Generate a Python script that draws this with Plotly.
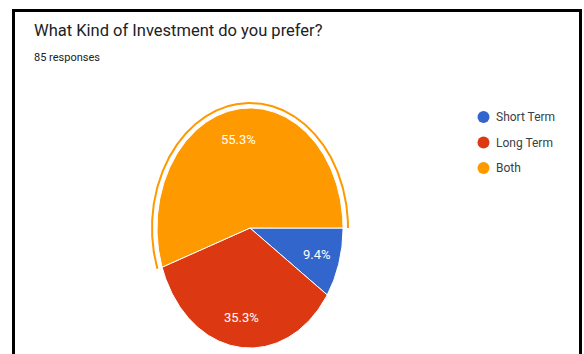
import numpy as np
import plotly.graph_objects as go

# Survey results
categories = ["Short Term", "Long Term", "Both"]
counts = [8, 30, 47]
colors = ["#3366CC", "#DC3912", "#FF9900"]
title_text = "What Kind of Investment do you prefer?"
subtitle_text = "85 responses"
highlighted = "Both"

W, H = 584, 354
FONT = "Roboto, Arial, sans-serif"

# Pie geometry in pixels: centre and the two semi-axes of the (stretched) pie
cx, cy, rx, ry = 250, 228, 93, 120
ring_gap = 5

total = sum(counts)
fractions = np.array(counts, dtype=float) / total
ends = np.cumsum(fractions)
starts = ends - fractions

fig = go.Figure()

# Slices: start at 3 o'clock and run clockwise, unit circle in data space
for name, frac, s, e, col in zip(categories, fractions, starts, ends, colors):
    n = max(int(frac * 400), 8)
    t = np.linspace(-s * 2 * np.pi, -e * 2 * np.pi, n)
    xs = np.concatenate([[0], np.cos(t), [0]])
    ys = np.concatenate([[0], np.sin(t), [0]])
    fig.add_trace(go.Scatter(
        x=xs, y=ys, mode="lines", fill="toself", fillcolor=col,
        line=dict(color="white", width=1), hoverinfo="skip", showlegend=False,
    ))

# Highlight ring around the selected slice
i = categories.index(highlighted)
t = np.linspace(-starts[i] * 2 * np.pi, -ends[i] * 2 * np.pi, 400)
kx, ky = (rx + ring_gap) / rx, (ry + ring_gap) / ry
fig.add_trace(go.Scatter(
    x=kx * np.cos(t), y=ky * np.sin(t), mode="lines",
    line=dict(color=colors[i], width=2), hoverinfo="skip", showlegend=False,
))

# Percentage labels inside each slice
annotations = []
for frac, s, e in zip(fractions, starts, ends):
    mid = -(s + e) * np.pi
    annotations.append(dict(
        x=0.75 * np.cos(mid), y=0.75 * np.sin(mid), xref="x", yref="y",
        text=f"{frac * 100:.1f}%", showarrow=False,
        font=dict(family=FONT, size=13, color="white"),
    ))

def px(x):
    return x / W

def py(y):
    return 1 - y / H

# Title and response count
annotations.append(dict(
    x=px(32), y=py(30), xref="paper", yref="paper", xanchor="left", yanchor="middle",
    text=title_text, showarrow=False, font=dict(family=FONT, size=16.5, color="#202124"),
))
annotations.append(dict(
    x=px(32), y=py(58), xref="paper", yref="paper", xanchor="left", yanchor="middle",
    text=subtitle_text, showarrow=False, font=dict(family=FONT, size=11, color="#202124"),
))

# Legend: coloured dots with labels
shapes = []
for k, (name, col) in enumerate(zip(categories, colors)):
    yc = 117 + k * 25.5
    shapes.append(dict(
        type="circle", xref="paper", yref="paper",
        x0=px(477.5), x1=px(489.5), y0=py(yc + 6), y1=py(yc - 6),
        fillcolor=col, line=dict(width=0),
    ))
    annotations.append(dict(
        x=px(494), y=py(yc), xref="paper", yref="paper", xanchor="left", yanchor="middle",
        text=name, showarrow=False, font=dict(family=FONT, size=12, color="#3c4043"),
    ))

# Frame lines
frame = dict(color="black", width=3)
shapes += [
    dict(type="line", xref="paper", yref="paper", x0=px(13.5), x1=px(13.5), y0=py(9), y1=0, line=frame),
    dict(type="line", xref="paper", yref="paper", x0=px(12), x1=px(582), y0=py(10.5), y1=py(10.5), line=frame),
    dict(type="line", xref="paper", yref="paper", x0=px(580.5), x1=px(580.5), y0=py(9), y1=0, line=frame),
]

fig.update_layout(
    width=W, height=H, margin=dict(l=0, r=0, t=0, b=0),
    paper_bgcolor="white", plot_bgcolor="white",
    xaxis=dict(range=[-cx / rx, (W - cx) / rx], visible=False, fixedrange=True),
    yaxis=dict(range=[-(H - cy) / ry, cy / ry], visible=False, fixedrange=True),
    annotations=annotations, shapes=shapes, showlegend=False,
)

fig.write_html("out.html", config={"displayModeBar": False})
